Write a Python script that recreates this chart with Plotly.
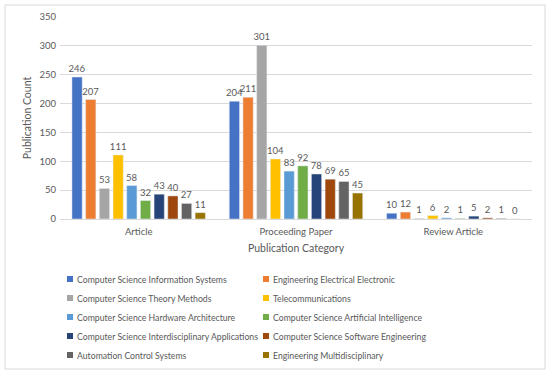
import plotly.graph_objects as go

categories = ["Article", "Proceeding Paper", "Review Article"]
series_names = [
    "Computer Science Information Systems",
    "Engineering Electrical Electronic",
    "Computer Science Theory Methods",
    "Telecommunications",
    "Computer Science Hardware Architecture",
    "Computer Science Artificial Intelligence",
    "Computer Science Interdisciplinary Applications",
    "Computer Science Software Engineering",
    "Automation Control Systems",
    "Engineering Multidisciplinary",
]
values = [
    [246, 204, 10],
    [207, 211, 12],
    [53, 301, 1],
    [111, 104, 6],
    [58, 83, 2],
    [32, 92, 1],
    [43, 78, 5],
    [40, 69, 2],
    [27, 65, 1],
    [11, 45, 0],
]
colors = ["#4472C4", "#ED7D31", "#A5A5A5", "#FFC000", "#5B9BD5",
          "#70AD47", "#264478", "#9E480E", "#636363", "#997300"]

FONT = "Lato"
TXT = "#595959"

fig = go.Figure()
for name, vals, c in zip(series_names, values, colors):
    fig.add_trace(go.Bar(
        name=name, x=categories, y=vals, marker_color=c,
        text=[str(v) for v in vals], textposition="outside",
        textfont=dict(size=9.5, color=TXT, family=FONT),
        constraintext="none", cliponaxis=False, showlegend=False,
    ))

W, H = 550, 373
L, R, T, B = 60, 18, 17, 154
pw, ph = W - L - R, H - T - B

def px_x(x):
    return (x - L) / pw

def px_y(y):
    return (H - B - y) / ph

fig.update_layout(
    width=W, height=H,
    margin=dict(l=L, r=R, t=T, b=B, autoexpand=False),
    paper_bgcolor="white", plot_bgcolor="white",
    font=dict(family=FONT, color=TXT, size=9),
    barmode="group", bargap=0.13, bargroupgap=0.25,
    showlegend=False,
)
fig.update_yaxes(
    range=[0, 350], dtick=50, showgrid=True, gridcolor="#D9D9D9", gridwidth=1,
    zeroline=False, showline=False, ticks="", ticklabelstandoff=3,
    tickfont=dict(size=9.5, color=TXT),
    title=dict(text="Publication Count", font=dict(size=10.5, color=TXT), standoff=5),
)
fig.update_xaxes(
    showline=True, linecolor="#D9D9D9", linewidth=1, ticks="", ticklabelstandoff=4,
    tickfont=dict(size=9.5, color=TXT),
    title=dict(text="Publication Category", font=dict(size=10.5, color=TXT), standoff=8),
)
fig.add_shape(type="rect", xref="paper", yref="paper",
              x0=px_x(5), x1=px_x(545), y0=px_y(369), y1=px_y(5),
              line=dict(color="#D9D9D9", width=1), layer="below")

# Manual two-column legend (small square swatch + label)
col_x = [70, 266]
row_y0, row_dy = 279, 19
for i, (name, c) in enumerate(zip(series_names, colors)):
    r, k = divmod(i, 2)
    cx, cy = col_x[k], row_y0 + r * row_dy
    fig.add_shape(type="rect", xref="paper", yref="paper",
                  x0=px_x(cx - 3), x1=px_x(cx + 3), y0=px_y(cy + 3), y1=px_y(cy - 3),
                  line=dict(width=0), fillcolor=c)
    fig.add_annotation(xref="paper", yref="paper", x=px_x(cx + 5), y=px_y(cy),
                       xanchor="left", yanchor="middle", showarrow=False,
                       text=name, font=dict(size=8.7, color=TXT, family=FONT))

fig.write_html("out.html", config={"displayModeBar": False},
               post_script="document.body.style.margin='0';document.body.style.padding='0';")
